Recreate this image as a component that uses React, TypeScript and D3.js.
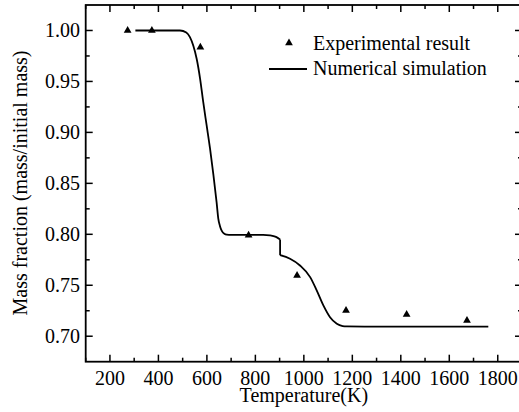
import React from "react";
import * as d3 from "d3";

const expTemp = [273, 373, 573, 772, 972, 1174, 1424, 1673];
const expMass = [1.0, 1.0, 0.9836, 0.7991, 0.7596, 0.7252, 0.7213, 0.7154];

const simTempA = [305, 400, 489, 515, 530, 544, 558, 572, 585, 599, 613, 627, 640, 647, 654, 661, 672, 682, 700, 832, 860, 885, 902];
const simMassA = [1.0, 1.0, 1.0, 0.998, 0.9934, 0.985, 0.972, 0.9526, 0.9296, 0.9068, 0.884, 0.858, 0.8315, 0.8155, 0.808, 0.8037, 0.8005, 0.7997, 0.7995, 0.7995, 0.799, 0.7975, 0.795];
const simTempB = [902, 943, 984, 1026, 1053, 1081, 1108, 1136, 1160, 1177, 1250, 1761];
const simMassB = [0.7795, 0.776, 0.7694, 0.758, 0.745, 0.73, 0.7187, 0.7123, 0.71, 0.7096, 0.7095, 0.7095];

const xTicks = [200, 400, 600, 800, 1000, 1200, 1400, 1600, 1800];
const yTicks = [0.7, 0.75, 0.8, 0.85, 0.9, 0.95, 1.0];
const legendLabels = ["Experimental result", "Numerical simulation"];
const xTitle = "Temperature(K)";
const yTitle = "Mass fraction (mass/initial mass)";

const W = 519;
const H = 412;
const L = 85.7, R = 522, T = 5, B = 361.7;
const FONT = "Liberation Serif, Times New Roman, Times, DejaVu Serif, serif";

export default function App() {
  const x = d3.scaleLinear().domain([100, 1900]).range([L, R]);
  const y = d3.scaleLinear().domain([0.675, 1.025]).range([B, T]);
  const xMinor = d3.range(100, 1901, 100).filter((v) => v % 200 !== 0);
  const yMinorTicks = [0.725, 0.775, 0.825, 0.875, 0.925, 0.975];

  const line = d3
    .line<[number, number]>()
    .x((d) => x(d[0]))
    .y((d) => y(d[1]))
    .curve(d3.curveMonotoneX);
  const lin = d3
    .line<[number, number]>()
    .x((d) => x(d[0]))
    .y((d) => y(d[1]));
  const segA: [number, number][] = simTempA.map((t, i) => [t, simMassA[i]]);
  const segB: [number, number][] = simTempB.map((t, i) => [t, simMassB[i]]);
  const jump: [number, number][] = [segA[segA.length - 1], segB[0]];

  const tri = d3.symbol().type(d3.symbolTriangle).size(26)() as string;

  const MJ = 7, MN = 4;
  const ts: React.CSSProperties = { fontFamily: FONT, fontSize: "20px" };

  return (
    <svg width={W} height={H} style={{ position: "absolute", left: 0, top: 0, background: "#fff", fontFamily: FONT }}>
      <rect x={0} y={0} width={W} height={H} fill="#fff" />
      <path d={line(segA) as string} fill="none" stroke="#000" strokeWidth={1.8} />
      <path d={lin(jump) as string} fill="none" stroke="#000" strokeWidth={1.8} />
      <path d={line(segB) as string} fill="none" stroke="#000" strokeWidth={1.8} />
      {expTemp.map((t, i) => (
        <path key={i} d={tri} transform={`translate(${x(t)},${y(expMass[i])})`} fill="#000" />
      ))}
      <rect x={L} y={T} width={R - L} height={B - T} fill="none" stroke="#000" strokeWidth={1.8} />
      {xTicks.map((v) => (
        <g key={"xt" + v}>
          <line x1={x(v)} x2={x(v)} y1={B} y2={B - MJ} stroke="#000" strokeWidth={1.5} />
          <line x1={x(v)} x2={x(v)} y1={T} y2={T + MJ} stroke="#000" strokeWidth={1.5} />
          <text x={x(v)} y={385} style={ts} textAnchor="middle" fill="#000">
            {v}
          </text>
        </g>
      ))}
      {xMinor.map((v) => (
        <g key={"xm" + v}>
          <line x1={x(v)} x2={x(v)} y1={B} y2={B - MN} stroke="#000" strokeWidth={1.5} />
          <line x1={x(v)} x2={x(v)} y1={T} y2={T + MN} stroke="#000" strokeWidth={1.5} />
        </g>
      ))}
      {yTicks.map((v) => (
        <g key={"yt" + v}>
          <line x1={L} x2={L + MJ} y1={y(v)} y2={y(v)} stroke="#000" strokeWidth={1.5} />
          <line x1={R} x2={R - MJ} y1={y(v)} y2={y(v)} stroke="#000" strokeWidth={1.5} />
          <text x={80} y={y(v)} dy="0.34em" style={ts} textAnchor="end" fill="#000">
            {v.toFixed(2)}
          </text>
        </g>
      ))}
      {yMinorTicks.map((v) => (
        <g key={"ym" + v}>
          <line x1={L} x2={L + MN} y1={y(v)} y2={y(v)} stroke="#000" strokeWidth={1.5} />
          <line x1={R} x2={R - MN} y1={y(v)} y2={y(v)} stroke="#000" strokeWidth={1.5} />
        </g>
      ))}
      <text x={(L + R) / 2} y={402} style={ts} textAnchor="middle" fill="#000">
        {xTitle}
      </text>
      <text transform={`translate(27,183) rotate(-90)`} style={ts} textAnchor="middle" fill="#000">
        {yTitle}
      </text>
      <path d={tri} transform="translate(289,43)" fill="#000" />
      <text x={313} y={49.5} style={ts} fill="#000">
        {legendLabels[0]}
      </text>
      <line x1={269} x2={307} y1={69} y2={69} stroke="#000" strokeWidth={1.8} />
      <text x={313} y={74.5} style={ts} fill="#000">
        {legendLabels[1]}
      </text>
    </svg>
  );
}
